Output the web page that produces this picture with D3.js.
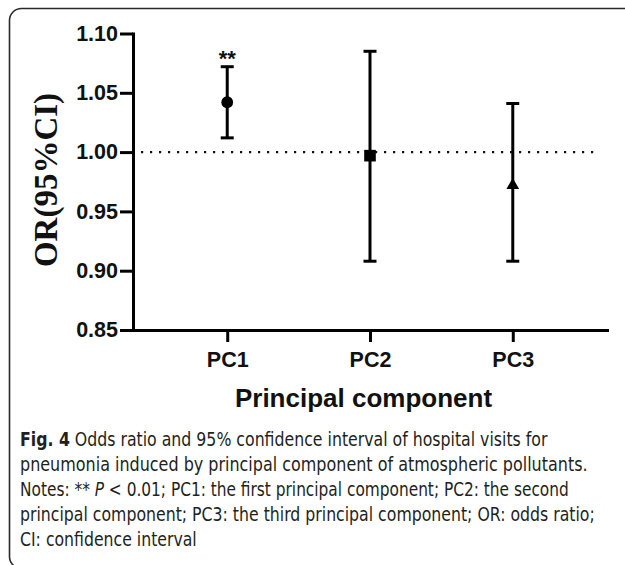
<!DOCTYPE html>
<html>
<head>
<meta charset="utf-8">
<script src="https://cdn.jsdelivr.net/npm/d3@7"></script>
<style>
  html, body { margin: 0; padding: 0; background: #fff; }
  svg { display: block; }
</style>
</head>
<body>
<div id="chart"></div>
<script>
// values
const components = ["PC1", "PC2", "PC3"];
const orValues = [1.042, 0.997, 0.972];
const ciLower = [1.012, 0.908, 0.908];
const ciUpper = [1.072, 1.085, 1.041];
const significance = ["**", "", ""];
const yTicks = [0.85, 0.90, 0.95, 1.00, 1.05, 1.10];
const referenceLine = 1.00;
const yLabel = "OR(95%CI)";
const xLabel = "Principal component";
const captionLines = [
    "Fig. 4 Odds ratio and 95% confidence interval of hospital visits for",
    "pneumonia induced by principal component of atmospheric pollutants.",
    "Notes: ** P < 0.01; PC1: the first principal component; PC2: the second",
    "principal component; PC3: the third principal component; OR: odds ratio;",
    "CI: confidence interval"
];

const WIDTH = 625;
const HEIGHT = 565;
const PLOT_LEFT = 133;
const PLOT_RIGHT = 607;
const PLOT_TOP = 33.5;
const PLOT_BOTTOM = 330;
const AXIS_FONT = "'Liberation Sans', Arial, sans-serif";
const CAPTION_FONT = "'Liberation Sans Narrow', 'DejaVu Sans Condensed', 'Liberation Sans', sans-serif";

const svg = d3.select("#chart").append("svg")
    .attr("width", WIDTH)
    .attr("height", HEIGHT);

// rounded frame round the whole figure (right and bottom run off the page)
svg.append("rect")
    .attr("x", 9.5)
    .attr("y", 8.5)
    .attr("width", 640)
    .attr("height", 560)
    .attr("rx", 12)
    .attr("fill", "none")
    .attr("stroke", "#2a2a2a")
    .attr("stroke-width", 1.6);

let y = d3.scaleLinear()
    .domain([yTicks[0], yTicks[yTicks.length - 1]])
    .range([PLOT_BOTTOM, PLOT_TOP]);

let x = d3.scalePoint()
    .domain(components)
    .range([PLOT_LEFT, PLOT_RIGHT])
    .padding(0.66);

// dotted reference line at OR = 1
svg.append("line")
    .attr("x1", PLOT_LEFT + 8)
    .attr("x2", PLOT_RIGHT - 8)
    .attr("y1", y(referenceLine))
    .attr("y2", y(referenceLine))
    .attr("stroke", "#111")
    .attr("stroke-width", 2.4)
    .attr("stroke-dasharray", "2.2,6.8");

// axes
let yAxis = svg.append("g")
    .attr("transform", "translate(" + PLOT_LEFT + ",0)")
    .call(d3.axisLeft(y)
        .tickValues(yTicks)
        .tickFormat(d3.format(".2f"))
        .tickSize(13)
        .tickSizeOuter(0)
        .tickPadding(2));

let xAxis = svg.append("g")
    .attr("transform", "translate(0," + PLOT_BOTTOM + ")")
    .call(d3.axisBottom(x)
        .tickSize(12)
        .tickSizeOuter(0)
        .tickPadding(9.5));

[yAxis, xAxis].forEach(ax => {
    ax.select(".domain")
        .attr("stroke", "#000")
        .attr("stroke-width", 3)
        .attr("stroke-linecap", "square");
    ax.selectAll(".tick line")
        .attr("stroke", "#000")
        .attr("stroke-width", 3);
    ax.selectAll(".tick text")
        .attr("fill", "#111")
        .style("font-family", AXIS_FONT)
        .style("font-weight", "bold")
        .style("font-size", "21.5px");
});

// error bars
let bars = svg.append("g").selectAll("g")
    .data(components)
    .join("g")
    .attr("transform", d => "translate(" + x(d) + ",0)");

bars.append("line")
    .attr("y1", (d, i) => y(ciLower[i]))
    .attr("y2", (d, i) => y(ciUpper[i]))
    .attr("stroke", "#000")
    .attr("stroke-width", 3);

[ciLower, ciUpper].forEach(bound => {
    bars.append("line")
        .attr("x1", -6.5)
        .attr("x2", 6.5)
        .attr("y1", (d, i) => y(bound[i]))
        .attr("y2", (d, i) => y(bound[i]))
        .attr("stroke", "#000")
        .attr("stroke-width", 3);
});

// point estimates: circle, square, triangle
const symbols = [d3.symbolCircle, d3.symbolSquare, d3.symbolTriangle];
const symbolSizes = [110, 135, 70];
bars.append("path")
    .attr("transform", (d, i) => "translate(0," + y(orValues[i]) + ")")
    .attr("d", (d, i) => d3.symbol(symbols[i], symbolSizes[i])())
    .attr("fill", "#000");

bars.append("text")
    .attr("y", (d, i) => y(ciUpper[i]) - 1)
    .attr("text-anchor", "middle")
    .style("font-family", AXIS_FONT)
    .style("font-weight", "bold")
    .style("font-size", "22px")
    .attr("fill", "#111")
    .text((d, i) => significance[i]);

// axis titles
svg.append("text")
    .attr("transform", "translate(57,180) rotate(-90)")
    .attr("text-anchor", "middle")
    .style("font-family", "'Liberation Serif', 'Times New Roman', serif")
    .style("font-weight", "bold")
    .style("font-size", "33px")
    .attr("fill", "#111")
    .text(yLabel);

svg.append("text")
    .attr("x", 363.5)
    .attr("y", 406.5)
    .attr("text-anchor", "middle")
    .style("font-family", AXIS_FONT)
    .style("font-weight", "bold")
    .style("font-size", "26px")
    .attr("fill", "#111")
    .text(xLabel);

// caption below the chart; the original face is narrow, so each line
// is squeezed horizontally to the width it has in the figure
const CAPTION_X = 20;
const CAPTION_Y = 445.5;
const CAPTION_STEP = 25;
const captionWidths = [528, 568, 549, 575, null];

let captionRows = captionLines.map((line, i) => {
    let g = svg.append("g");
    let t = g.append("text")
        .style("font-family", CAPTION_FONT)
        .style("font-size", "19.5px")
        .attr("fill", "#231f20");

    if (line.startsWith("Fig. 4")) {
        t.append("tspan").style("font-weight", "bold").text("Fig. 4");
        t.append("tspan").text(line.slice(6));
    } else if (line.includes(" P <")) {
        let k = line.indexOf(" P <");
        t.append("tspan").text(line.slice(0, k + 1));
        t.append("tspan").style("font-style", "italic").text("P");
        t.append("tspan").text(line.slice(k + 2));
    } else {
        t.text(line);
    }
    return { g: g, w: t.node().getComputedTextLength() };
});

let known = captionRows.filter((r, i) => captionWidths[i] !== null);
let meanScale = d3.mean(known, r => captionWidths[captionRows.indexOf(r)] / r.w);

captionRows.forEach((r, i) => {
    let sx = captionWidths[i] !== null ? captionWidths[i] / r.w : meanScale;
    r.g.attr("transform", "translate(" + CAPTION_X + "," + (CAPTION_Y + i * CAPTION_STEP) + ") scale(" + sx + ",1)");
});
</script>
</body>
</html>
